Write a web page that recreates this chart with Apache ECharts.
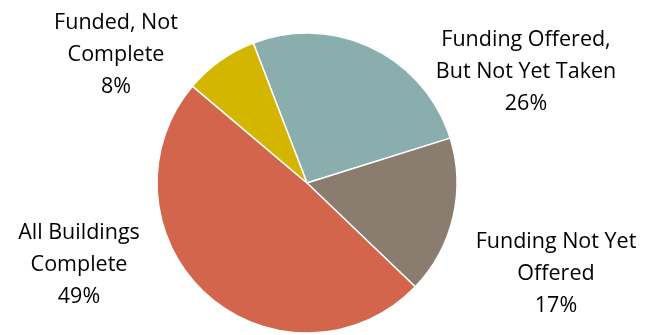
<!DOCTYPE html>
<html><head><meta charset="utf-8">
<script src="https://cdn.jsdelivr.net/npm/echarts@6/dist/echarts.min.js"></script>
<style>html,body{margin:0;padding:0;background:#fff;}#c{width:646px;height:335px;}</style>
</head><body><div id="c"></div>
<script>
var categories = ['Funding Offered,\nBut Not Yet Taken', 'Funding Not Yet\nOffered', 'All Buildings\nComplete', 'Funded, Not\nComplete'];
var values = [26, 17, 49, 8];
var colors = ['#8AADAE', '#8B7C70', '#D2654B', '#D4B500'];
var labelPos = [[526, 72], [556, 274], [79, 265], [116, 55]];

var chart = echarts.init(document.getElementById('c'));
chart.setOption({
  animation: false,
  series: [{
    type: 'pie',
    center: [307, 183],
    radius: [0, 150],
    startAngle: 111,
    clockwise: true,
    data: categories.map(function (c, i) { return { name: c, value: values[i], itemStyle: { color: colors[i] } }; }),
    itemStyle: { borderColor: '#fff', borderWidth: 1.5 },
    label: {
      show: true,
      position: 'outside',
      formatter: function (p) { return p.name + '\n' + p.value + '%'; },
      fontFamily: 'Open Sans',
      fontSize: 21.5,
      lineHeight: 32,
      color: '#000',
      align: 'center',
      overflow: 'none',
      width: 300
    },
    labelLine: { show: false },
    labelLayout: function (p) {
      var pos = labelPos[p.dataIndex];
      return { x: pos[0], y: pos[1], align: 'center', verticalAlign: 'middle', hideOverlap: false };
    }
  }]
});
</script></body></html>
